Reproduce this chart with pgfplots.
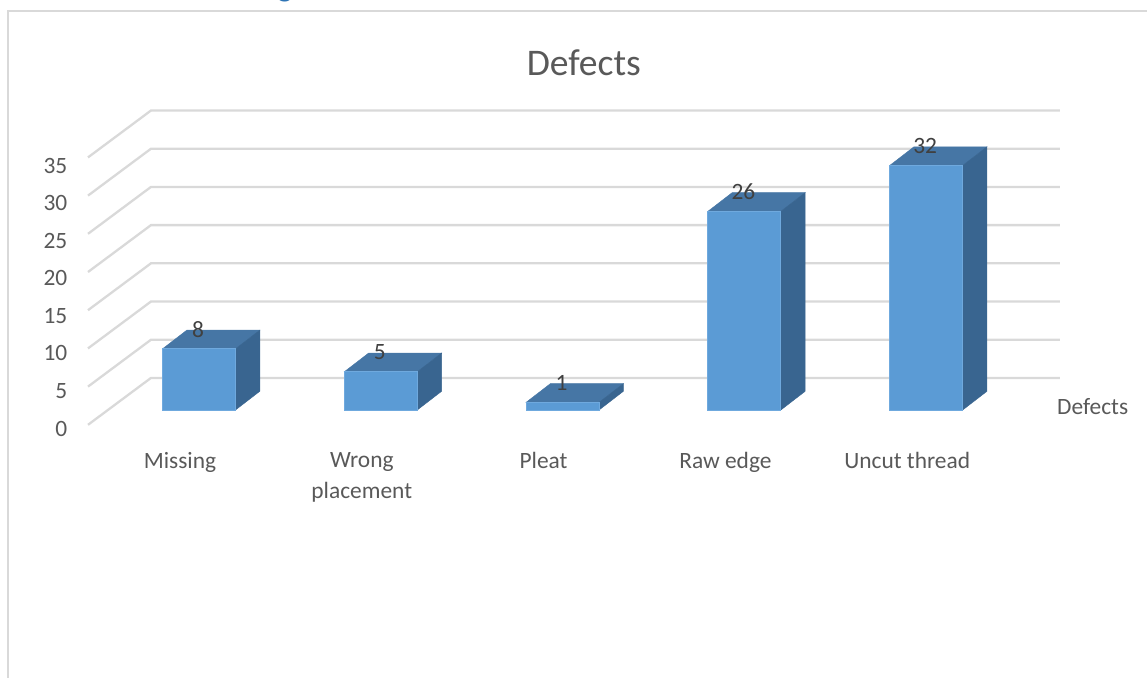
\documentclass[border=0pt]{standalone}
\usepackage{fontspec}
\setmainfont{Carlito}
\usepackage{pgfplots}
\pgfplotsset{compat=1.18}
\definecolor{gridgrey}{HTML}{D9D9D9}
\definecolor{labelgrey}{HTML}{595959}
\definecolor{valuegrey}{HTML}{404040}
\definecolor{barfront}{HTML}{5B9BD5}
\definecolor{baredge}{HTML}{6FA9DE}
\definecolor{bartop}{HTML}{4676A5}
\definecolor{barside}{HTML}{396590}
\definecolor{headblue}{HTML}{2E74B5}
\pgfplotsset{
  gridline/.style={color=gridgrey, line width=2.3pt, line join=miter, forget plot},
  topface/.style={fill=bartop, draw=bartop, line width=0.4pt, forget plot},
  sideface/.style={fill=barside, draw=barside, line width=0.4pt, forget plot},
}
\begin{document}
\begin{tikzpicture}
\useasboundingbox (0,0) rectangle (1147pt,677pt);
\begin{axis}[
  at={(0,0)}, anchor=south west,
  scale only axis, width=1147pt, height=677pt,
  xmin=-1.0946, xmax=5.2145, ymin=-34.948, ymax=53.665,
  axis line style={draw=none}, tick style={draw=none},
  major tick length=0pt,
  axis x line*=bottom, axis y line*=left,
  xtick={0,1,2,3,4},
  xticklabels={Missing,{Wrong\\placement},Pleat,Raw edge,Uncut thread},
  x tick label style={font=\fontsize{23.4}{31}\selectfont, text=labelgrey, align=center,
    anchor=north, inner sep=0pt, xshift=-19pt, yshift=225pt},
  ytick={-2.48,2.5,7.41,12.32,17.29,22.13,27.04,31.99},
  yticklabels={0,5,10,15,20,25,30,35},
  y tick label style={font=\fontsize{23.4}{27}\selectfont, text=labelgrey,
    anchor=east, inner sep=0pt, xshift=67.5pt},
  title={Defects},
  title style={at={(0.509,0.899)}, anchor=center, inner sep=0pt,
    font=\fontsize{37.6}{44}\selectfont, text=labelgrey},
  /pgf/number format/assume math mode=true,
]
% outer chart frame, left and top edges
\addplot[color=gridgrey, line width=2.2pt, forget plot] coordinates {(-1.0506,-36) (-1.0506,52.2) (5.3,52.2)};

% walls: one bent gridline per 5 units, 0 to 35
\addplot[gridline] coordinates {(-0.6106,-1.94) (-0.264,4.2) (4.736,4.2)};
\addplot[gridline] coordinates {(-0.6106,3.06) (-0.264,9.2) (4.736,9.2)};
\addplot[gridline] coordinates {(-0.6106,8.06) (-0.264,14.2) (4.736,14.2)};
\addplot[gridline] coordinates {(-0.6106,13.06) (-0.264,19.2) (4.736,19.2)};
\addplot[gridline] coordinates {(-0.6106,18.06) (-0.264,24.2) (4.736,24.2)};
\addplot[gridline] coordinates {(-0.6106,23.06) (-0.264,29.2) (4.736,29.2)};
\addplot[gridline] coordinates {(-0.6106,28.06) (-0.264,34.2) (4.736,34.2)};
\addplot[gridline] coordinates {(-0.6106,33.06) (-0.264,39.2) (4.736,39.2)};

% bar tops and sides
\addplot[topface] coordinates {(-0.2008,8) (0.2008,8) (0.3345,10.45) (-0.0671,10.45)} --cycle;
\addplot[sideface] coordinates {(0.2008,0) (0.3345,2.45) (0.3345,10.45) (0.2008,8)} --cycle;
\addplot[topface] coordinates {(0.7992,5) (1.2008,5) (1.3345,7.45) (0.9329,7.45)} --cycle;
\addplot[sideface] coordinates {(1.2008,0) (1.3345,2.45) (1.3345,7.45) (1.2008,5)} --cycle;
\addplot[topface] coordinates {(1.7992,1) (2.2008,1) (2.3345,3.45) (1.9329,3.45)} --cycle;
\addplot[sideface] coordinates {(2.2008,0) (2.3345,2.45) (2.3345,3.45) (2.2008,1)} --cycle;
\addplot[topface] coordinates {(2.7992,26) (3.2008,26) (3.3345,28.45) (2.9329,28.45)} --cycle;
\addplot[sideface] coordinates {(3.2008,0) (3.3345,2.45) (3.3345,28.45) (3.2008,26)} --cycle;
\addplot[topface] coordinates {(3.7992,32) (4.2008,32) (4.3345,34.45) (3.9329,34.45)} --cycle;
\addplot[sideface] coordinates {(4.2008,0) (4.3345,2.45) (4.3345,34.45) (4.2008,32)} --cycle;

% bar fronts with their value labels
\addplot[ybar, bar width=73pt, bar shift=0pt, fill=barfront, draw=baredge, line width=0.8pt,
  nodes near coords, point meta=y,
  every node near coord/.style={font=\fontsize{23.4}{27}\selectfont, text=valuegrey,
    anchor=center, inner sep=0pt, yshift=19.5pt, xshift=-1pt}]
  coordinates {(0,8) (1,5) (2,1) (3,26) (4,32)};

% series name at the depth axis
\node[font=\fontsize{23.4}{27}\selectfont, text=labelgrey, anchor=center, inner sep=0pt]
  at (axis cs:4.916,0.39) {Defects};
\end{axis}
% descender of the heading above the chart
\begin{scope}
\clip (0,0) rectangle (1147pt,677pt);
\node[font=\fontsize{32}{38}\selectfont, text=headblue, anchor=base, inner sep=0pt]
  at (285pt,680pt) {g};
\end{scope}
\end{tikzpicture}
\end{document}
